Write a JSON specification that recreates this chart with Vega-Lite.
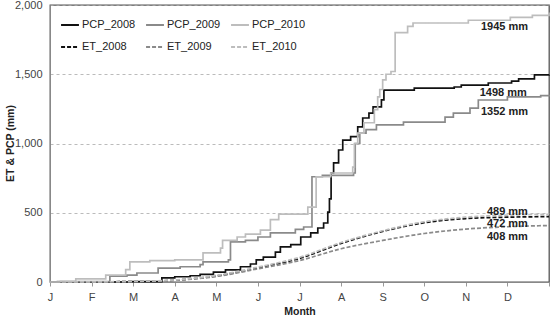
{
  "$schema": "https://vega.github.io/schema/vega-lite/v6.json",
  "width": 499,
  "height": 277,
  "autosize": "none",
  "padding": {"left": 50, "top": 5, "right": 3, "bottom": 34},
  "background": "white",
  "config": {
    "font": "Liberation Sans",
    "view": {"stroke": "#555", "strokeWidth": 1.3},
    "axis": {"labelFont": "Liberation Sans", "titleFont": "Liberation Sans", "labelFontSize": 11, "titleFontSize": 10.5, "labelColor": "#444", "titleColor": "#222", "domainColor": "#888"}
  },
  "datasets": {
    "pcp": [
      {"s":"PCP_2008","m":0,"v":0},{"s":"PCP_2008","m":1.9,"v":3},{"s":"PCP_2008","m":2.69,"v":30},{"s":"PCP_2008","m":3.0,"v":38},{"s":"PCP_2008","m":3.37,"v":45},{"s":"PCP_2008","m":3.61,"v":55},{"s":"PCP_2008","m":3.93,"v":72},{"s":"PCP_2008","m":4.22,"v":87},{"s":"PCP_2008","m":4.58,"v":110},{"s":"PCP_2008","m":4.82,"v":130},{"s":"PCP_2008","m":4.96,"v":160},{"s":"PCP_2008","m":5.13,"v":180},{"s":"PCP_2008","m":5.42,"v":215},{"s":"PCP_2008","m":5.54,"v":253},{"s":"PCP_2008","m":5.79,"v":270},{"s":"PCP_2008","m":6.03,"v":325},{"s":"PCP_2008","m":6.27,"v":354},{"s":"PCP_2008","m":6.44,"v":390},{"s":"PCP_2008","m":6.58,"v":426},{"s":"PCP_2008","m":6.68,"v":505},{"s":"PCP_2008","m":6.72,"v":600},{"s":"PCP_2008","m":6.76,"v":787},{"s":"PCP_2008","m":6.82,"v":860},{"s":"PCP_2008","m":6.94,"v":953},{"s":"PCP_2008","m":7.04,"v":1025},{"s":"PCP_2008","m":7.23,"v":1050},{"s":"PCP_2008","m":7.4,"v":1120},{"s":"PCP_2008","m":7.52,"v":1184},{"s":"PCP_2008","m":7.67,"v":1220},{"s":"PCP_2008","m":7.77,"v":1264},{"s":"PCP_2008","m":7.97,"v":1315},{"s":"PCP_2008","m":8.03,"v":1386},{"s":"PCP_2008","m":8.76,"v":1400},{"s":"PCP_2008","m":9.72,"v":1408},{"s":"PCP_2008","m":9.89,"v":1422},{"s":"PCP_2008","m":10.54,"v":1437},{"s":"PCP_2008","m":11.1,"v":1451},{"s":"PCP_2008","m":11.27,"v":1466},{"s":"PCP_2008","m":11.65,"v":1495},{"s":"PCP_2008","m":12,"v":1498},
      {"s":"PCP_2009","m":0,"v":0},{"s":"PCP_2009","m":0.25,"v":3},{"s":"PCP_2009","m":1.44,"v":43},{"s":"PCP_2009","m":1.85,"v":50},{"s":"PCP_2009","m":2.09,"v":65},{"s":"PCP_2009","m":2.6,"v":100},{"s":"PCP_2009","m":3.13,"v":110},{"s":"PCP_2009","m":3.61,"v":125},{"s":"PCP_2009","m":3.68,"v":145},{"s":"PCP_2009","m":4.29,"v":160},{"s":"PCP_2009","m":4.34,"v":290},{"s":"PCP_2009","m":4.7,"v":300},{"s":"PCP_2009","m":5.0,"v":325},{"s":"PCP_2009","m":5.3,"v":354},{"s":"PCP_2009","m":5.9,"v":380},{"s":"PCP_2009","m":6.1,"v":397},{"s":"PCP_2009","m":6.3,"v":760},{"s":"PCP_2009","m":6.55,"v":770},{"s":"PCP_2009","m":7.3,"v":787},{"s":"PCP_2009","m":7.34,"v":1000},{"s":"PCP_2009","m":7.45,"v":1075},{"s":"PCP_2009","m":7.6,"v":1100},{"s":"PCP_2009","m":7.85,"v":1134},{"s":"PCP_2009","m":8.5,"v":1155},{"s":"PCP_2009","m":9.5,"v":1190},{"s":"PCP_2009","m":9.7,"v":1220},{"s":"PCP_2009","m":10.1,"v":1256},{"s":"PCP_2009","m":10.3,"v":1314},{"s":"PCP_2009","m":11.0,"v":1336},{"s":"PCP_2009","m":11.8,"v":1345},{"s":"PCP_2009","m":12,"v":1352},
      {"s":"PCP_2010","m":0,"v":0},{"s":"PCP_2010","m":0.18,"v":5},{"s":"PCP_2010","m":0.62,"v":22},{"s":"PCP_2010","m":1.34,"v":50},{"s":"PCP_2010","m":1.82,"v":90},{"s":"PCP_2010","m":1.92,"v":145},{"s":"PCP_2010","m":2.4,"v":155},{"s":"PCP_2010","m":3.0,"v":160},{"s":"PCP_2010","m":3.68,"v":210},{"s":"PCP_2010","m":4.1,"v":245},{"s":"PCP_2010","m":4.15,"v":300},{"s":"PCP_2010","m":4.5,"v":325},{"s":"PCP_2010","m":4.7,"v":345},{"s":"PCP_2010","m":5.06,"v":375},{"s":"PCP_2010","m":5.3,"v":450},{"s":"PCP_2010","m":5.5,"v":490},{"s":"PCP_2010","m":6.2,"v":540},{"s":"PCP_2010","m":6.4,"v":760},{"s":"PCP_2010","m":6.75,"v":787},{"s":"PCP_2010","m":7.28,"v":830},{"s":"PCP_2010","m":7.32,"v":1000},{"s":"PCP_2010","m":7.4,"v":1075},{"s":"PCP_2010","m":7.55,"v":1150},{"s":"PCP_2010","m":7.8,"v":1245},{"s":"PCP_2010","m":7.88,"v":1336},{"s":"PCP_2010","m":7.93,"v":1390},{"s":"PCP_2010","m":8.0,"v":1460},{"s":"PCP_2010","m":8.08,"v":1500},{"s":"PCP_2010","m":8.2,"v":1520},{"s":"PCP_2010","m":8.3,"v":1800},{"s":"PCP_2010","m":8.6,"v":1845},{"s":"PCP_2010","m":8.73,"v":1870},{"s":"PCP_2010","m":10.06,"v":1890},{"s":"PCP_2010","m":11.07,"v":1910},{"s":"PCP_2010","m":11.6,"v":1925},{"s":"PCP_2010","m":12,"v":1945}
    ],
    "et": [
      {"s":"ET_2008","m":0,"v":0},{"s":"ET_2008","m":1,"v":1},{"s":"ET_2008","m":2,"v":3},{"s":"ET_2008","m":3,"v":13},{"s":"ET_2008","m":4,"v":44},{"s":"ET_2008","m":5,"v":102},{"s":"ET_2008","m":6,"v":170},{"s":"ET_2008","m":7,"v":278},{"s":"ET_2008","m":8,"v":365},{"s":"ET_2008","m":9,"v":428},{"s":"ET_2008","m":10,"v":458},{"s":"ET_2008","m":11,"v":468},{"s":"ET_2008","m":12,"v":472},
      {"s":"ET_2009","m":0,"v":0},{"s":"ET_2009","m":1,"v":1},{"s":"ET_2009","m":2,"v":3},{"s":"ET_2009","m":3,"v":12},{"s":"ET_2009","m":4,"v":40},{"s":"ET_2009","m":5,"v":95},{"s":"ET_2009","m":6,"v":155},{"s":"ET_2009","m":7,"v":240},{"s":"ET_2009","m":8,"v":300},{"s":"ET_2009","m":9,"v":350},{"s":"ET_2009","m":10,"v":382},{"s":"ET_2009","m":11,"v":399},{"s":"ET_2009","m":12,"v":408},
      {"s":"ET_2010","m":0,"v":0},{"s":"ET_2010","m":1,"v":1},{"s":"ET_2010","m":2,"v":4},{"s":"ET_2010","m":3,"v":15},{"s":"ET_2010","m":4,"v":48},{"s":"ET_2010","m":5,"v":108},{"s":"ET_2010","m":6,"v":178},{"s":"ET_2010","m":7,"v":285},{"s":"ET_2010","m":8,"v":370},{"s":"ET_2010","m":9,"v":435},{"s":"ET_2010","m":10,"v":468},{"s":"ET_2010","m":11,"v":483},{"s":"ET_2010","m":12,"v":489}
    ],
    "labels": [
      {"label":"1945 mm","m":10.93,"v":1841},
      {"label":"1498 mm","m":10.9,"v":1365},
      {"label":"1352 mm","m":10.93,"v":1227},
      {"label":"489 mm","m":11.0,"v":505},
      {"label":"472 mm","m":11.0,"v":419},
      {"label":"408 mm","m":11.0,"v":328}
    ]
  },
  "encoding": {
    "x": {"field": "m", "type": "quantitative", "scale": {"domain": [0, 12], "nice": false, "zero": false},
      "axis": {"title": "Month", "values": [0,1,2,3,4,5,6,7,8,9,10,11,12], "labelExpr": "['J','F','M','A','M','J','J','A','S','O','N','D',''][datum.value]", "grid": false, "tickSize": 4, "tickColor": "#999", "labelPadding": 5, "titlePadding": 4, "labelFlush": false}},
    "y": {"field": "v", "type": "quantitative", "scale": {"domain": [0, 2000], "nice": false},
      "axis": {"title": "ET & PCP (mm)", "values": [0,500,1000,1500,2000], "format": ",d", "ticks": false, "labelPadding": 8, "grid": true, "gridDash": [3,3], "gridColor": "#aaa", "gridWidth": 0.8, "titleX": -45, "titleY": 138, "titleAlign": "center", "titleBaseline": "top", "titleAngle": -90}}
  },
  "layer": [
    {
      "data": {"name": "pcp"},
      "mark": {"type": "line", "interpolate": "step-after"},
      "encoding": {
        "color": {"field": "s", "type": "nominal",
          "scale": {"domain": ["PCP_2008","PCP_2009","PCP_2010","ET_2008","ET_2009","ET_2010"], "range": ["#111111","#8a8a8a","#bdbdbd","#111111","#8a8a8a","#bdbdbd"]},
          "legend": {"title": null, "orient": "none", "direction": "horizontal", "legendX": 10, "legendY": 10, "columns": 3, "symbolType": "stroke", "symbolSize": 320, "symbolStrokeWidth": 1.8, "labelFontSize": 11, "labelColor": "#222", "labelFont": "Liberation Sans", "labelOffset": 2, "columnPadding": 6, "rowPadding": 7}},
        "strokeDash": {"field": "s", "type": "nominal",
          "scale": {"domain": ["PCP_2008","PCP_2009","PCP_2010","ET_2008","ET_2009","ET_2010"], "range": [[1,0],[1,0],[1,0],[4,2],[4,2],[4,2]]}},
        "strokeWidth": {"value": 1.7}
      }
    },
    {
      "data": {"name": "et"},
      "mark": {"type": "line", "interpolate": "monotone"},
      "encoding": {
        "color": {"field": "s", "type": "nominal"},
        "strokeDash": {"field": "s", "type": "nominal"},
        "strokeWidth": {"value": 1.7}
      }
    },
    {
      "data": {"name": "labels"},
      "mark": {"type": "text", "font": "Liberation Sans", "fontWeight": "bold", "fontSize": 11, "align": "center", "baseline": "middle", "color": "#222"},
      "encoding": {"text": {"field": "label"}}
    }
  ]
}
